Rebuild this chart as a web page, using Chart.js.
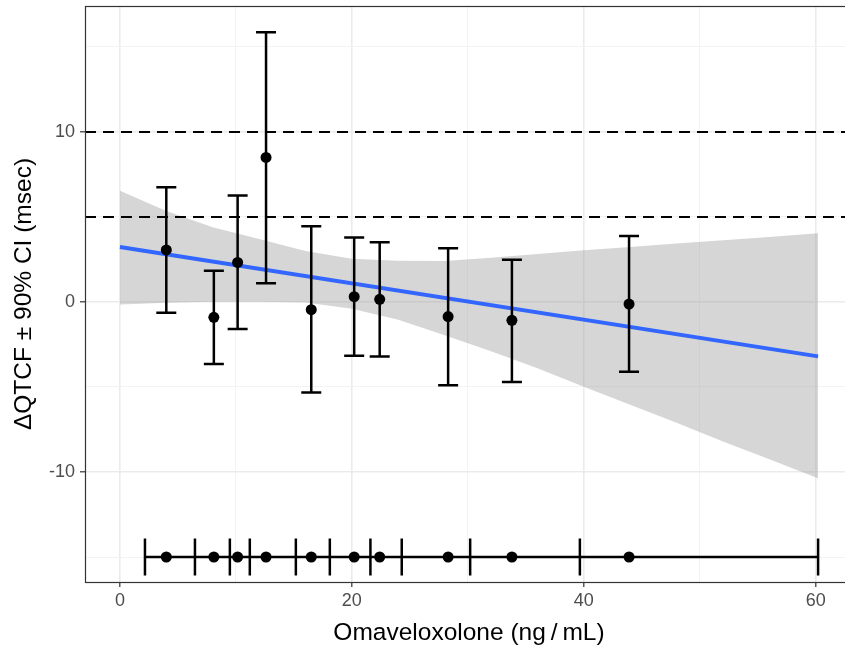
<!DOCTYPE html>
<html>
<head>
<meta charset="utf-8">
<script src="https://cdn.jsdelivr.net/npm/chart.js@4"></script>
<style>
  html, body { margin: 0; padding: 0; background: #fff; overflow: hidden; }
  canvas { display: block; }
</style>
</head>
<body>
<canvas id="qtc" width="860" height="648"></canvas>
<script>
// binned concentrations and dQTcF with 90% CI
var conc = [4.0, 8.1, 10.15, 12.6, 16.5, 20.2, 22.4, 28.3, 33.8, 43.9];
var dqtcf = [3.06, -0.9, 2.33, 8.5, -0.45, 0.31, 0.16, -0.86, -1.08, -0.12];
var ciLow = [-0.63, -3.65, -1.59, 1.1, -5.33, -3.16, -3.2, -4.9, -4.7, -4.1];
var ciHigh = [6.75, 1.84, 6.27, 15.86, 4.45, 3.8, 3.51, 3.16, 2.49, 3.88];

// bin edges shown along the bottom
var binEdges = [2.16, 6.47, 9.48, 11.2, 15.17, 18.1, 21.6, 24.3, 30.2, 39.66, 60.2];
var rugY = -15;

// linear fit and its confidence band
var fitX = [0, 60.2];
var fitY = [3.24, -3.2];
var bandX = [0, 4, 8, 12, 16, 20, 24, 28, 32, 36, 40, 44, 48, 52, 56, 60.2];
var bandHigh = [6.55, 5.35, 4.4, 3.7, 3.0, 2.55, 2.42, 2.41, 2.6, 2.82, 3.05, 3.24, 3.44, 3.63, 3.83, 4.04];
var bandLow = [-0.15, -0.05, 0.02, 0.02, -0.03, -0.4, -1.05, -1.95, -2.9, -3.9, -4.98, -6.05, -7.1, -8.2, -9.25, -10.37];

// reference lines
var refLines = [5, 10];

var xTicks = [0, 10, 20, 30, 40, 50, 60];
var yTicks = [-15, -10, -5, 0, 5, 10, 15];

function pts(xs, ys) {
    return xs.map(function(x, i) { return { x: x, y: ys[i] }; });
}

function noPad(s) {
    s.paddingLeft = 0; s.paddingRight = 0; s.paddingTop = 0; s.paddingBottom = 0;
}

var extras = {
    id: 'extras',
    afterDatasetsDraw: function(chart) {
        var ctx = chart.ctx, xs = chart.scales.x, ys = chart.scales.y, a = chart.chartArea;
        ctx.save();
        // dashed reference lines
        ctx.strokeStyle = '#000';
        ctx.lineWidth = 2;
        ctx.setLineDash([11, 7]);
        refLines.forEach(function(v) {
            var y = Math.round(ys.getPixelForValue(v));
            ctx.beginPath();
            ctx.moveTo(a.left, y);
            ctx.lineTo(a.right, y);
            ctx.stroke();
        });
        ctx.setLineDash([]);
        // error bars
        ctx.lineWidth = 2.5;
        conc.forEach(function(c, i) {
            var x = xs.getPixelForValue(c);
            var y1 = ys.getPixelForValue(ciLow[i]);
            var y2 = ys.getPixelForValue(ciHigh[i]);
            ctx.beginPath();
            ctx.moveTo(x, y1); ctx.lineTo(x, y2);
            ctx.moveTo(x - 10, y1); ctx.lineTo(x + 10, y1);
            ctx.moveTo(x - 10, y2); ctx.lineTo(x + 10, y2);
            ctx.stroke();
        });
        // points on top
        ctx.fillStyle = '#000';
        conc.forEach(function(c, i) {
            ctx.beginPath();
            ctx.arc(xs.getPixelForValue(c), ys.getPixelForValue(dqtcf[i]), 5.5, 0, Math.PI * 2);
            ctx.fill();
        });
        ctx.restore();
    },
    afterDraw: function(chart) {
        var ctx = chart.ctx, a = chart.chartArea;
        ctx.save();
        ctx.strokeStyle = '#333333';
        ctx.lineWidth = 1.2;
        ctx.strokeRect(a.left + 0.5, a.top + 0.5, a.right - a.left, a.bottom - a.top);
        ctx.restore();
    }
};

Chart.defaults.font.family = '"Liberation Sans", Arial, sans-serif';

var ctx = document.getElementById('qtc');
var chart = new Chart(ctx, {
    type: 'line',
    data: {
        datasets: [
            {
                type: 'scatter',
                data: conc.map(function(c) { return { x: c, y: rugY }; }),
                backgroundColor: '#000',
                borderWidth: 0,
                pointRadius: 5.5
            },
            {
                type: 'scatter',
                data: binEdges.map(function(b) { return { x: b, y: rugY }; }),
                pointStyle: 'line',
                rotation: 90,
                pointRadius: 18.5,
                borderColor: '#000',
                borderWidth: 2.5
            },
            {
                data: [{ x: binEdges[0], y: rugY }, { x: binEdges[binEdges.length - 1], y: rugY }],
                borderColor: '#000',
                borderWidth: 2.5,
                pointRadius: 0
            },
            {
                data: pts(fitX, fitY),
                borderColor: '#3366FF',
                borderWidth: 4,
                pointRadius: 0
            },
            {
                data: pts(bandX, bandHigh),
                borderWidth: 0,
                borderColor: 'rgba(0,0,0,0)',
                pointRadius: 0,
                backgroundColor: 'rgba(153,153,153,0.4)',
                fill: '+1'
            },
            {
                data: pts(bandX, bandLow),
                borderWidth: 0,
                borderColor: 'rgba(0,0,0,0)',
                pointRadius: 0,
                fill: false
            }
        ]
    },
    options: {
        responsive: false,
        animation: false,
        devicePixelRatio: 1,
        layout: { autoPadding: false, padding: { top: 6, right: 7, bottom: 0, left: 0 } },
        plugins: {
            legend: { display: false },
            tooltip: { enabled: false }
        },
        scales: {
            x: {
                type: 'linear',
                min: -3.01,
                max: 63.21,
                afterBuildTicks: function(s) { s.ticks = xTicks.map(function(v) { return { value: v }; }); },
                afterFit: function(s) { s.height = 66; noPad(s); },
                border: { display: false },
                grid: {
                    color: function(c) { return c.tick && c.tick.value % 20 === 0 ? '#EBEBEB' : '#F3F3F3'; },
                    lineWidth: function(c) { return c.tick && c.tick.value % 20 === 0 ? 1.6 : 1; },
                    tickColor: function(c) { return c.tick && c.tick.value % 20 === 0 ? '#333333' : 'rgba(0,0,0,0)'; },
                    tickLength: 5,
                    tickWidth: 1.2
                },
                ticks: {
                    color: '#4D4D4D',
                    font: { size: 18 },
                    padding: 3,
                    maxRotation: 0,
                    autoSkip: false,
                    callback: function(v) { return v % 20 === 0 ? v : ''; }
                },
                title: {
                    display: true,
                    text: 'Omaveloxolone (ng\u2009/\u2009mL)',
                    color: '#000',
                    font: { size: 24.5 },
                    padding: { top: 0, bottom: 0.5 }
                }
            },
            y: {
                min: -16.47,
                max: 17.41,
                afterBuildTicks: function(s) { s.ticks = yTicks.map(function(v) { return { value: v }; }); },
                afterFit: function(s) { s.width = 85; noPad(s); },
                border: { display: false },
                grid: {
                    color: function(c) { return c.tick && c.tick.value % 10 === 0 ? '#EBEBEB' : '#F3F3F3'; },
                    lineWidth: function(c) { return c.tick && c.tick.value % 10 === 0 ? 1.6 : 1; },
                    tickColor: function(c) { return c.tick && c.tick.value % 10 === 0 ? '#333333' : 'rgba(0,0,0,0)'; },
                    tickLength: 5,
                    tickWidth: 1.2
                },
                ticks: {
                    color: '#4D4D4D',
                    font: { size: 18 },
                    padding: 5,
                    autoSkip: false,
                    callback: function(v) { return v % 10 === 0 ? v : ''; }
                },
                title: {
                    display: true,
                    text: 'ΔQTCF ± 90% CI (msec)',
                    color: '#000',
                    font: { size: 24.5 },
                    padding: { top: 9.5, bottom: 0 }
                }
            }
        }
    },
    plugins: [extras]
});
</script>
</body>
</html>
